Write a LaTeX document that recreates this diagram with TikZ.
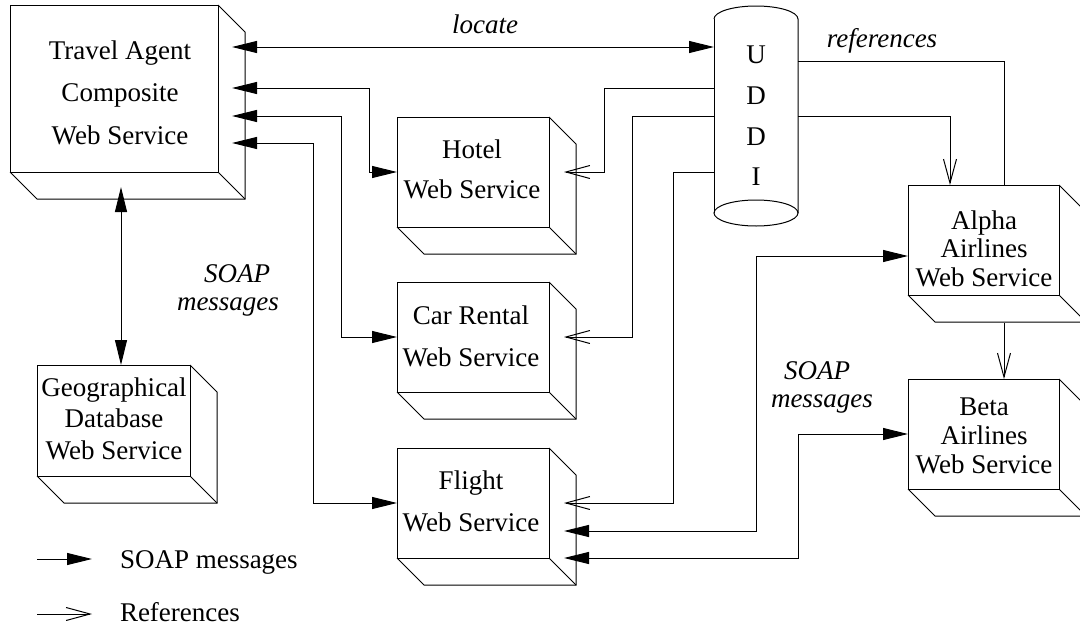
\documentclass[tikz,border=0pt]{standalone}
\usepackage{fontspec}
\setmainfont{Liberation Serif}
\usetikzlibrary{arrows.meta,calc}
\newcommand{\depthbox}[1]{%
  \draw (#1.north east) -- ++(27,-27) |- ($(#1.south west)+(27,-27)$) -- (#1.south west);
  \draw (#1.south east) -- ++(27,-27);}
\begin{document}
\begin{tikzpicture}[x=1pt,y=1pt,line width=1pt,line join=miter,
  every node/.style={outer sep=0pt,inner sep=0pt},
  face/.style={draw,rectangle},
  txt/.style={align=center},
  lbl/.style={font=\fontsize{27}{27}\selectfont\itshape},
  soap/.style={-{Triangle[length=25pt,width=12pt]}},
  soaptwo/.style={{Triangle[length=25pt,width=12pt]}-{Triangle[length=25pt,width=12pt]}},
  refarrow/.style={-{Straight Barb[length=24pt,width=13pt]}}]
\useasboundingbox (0,0) rectangle (1080,-627);

% boxes (front faces)
\node[face,minimum width=208,minimum height=167] (ta) at (114,-88.5) {};
\node[face,minimum width=152,minimum height=110] (hotel) at (473,-172) {};
\node[face,minimum width=152,minimum height=110] (car) at (473,-337) {};
\node[face,minimum width=152,minimum height=110] (flight) at (473,-503) {};
\node[face,minimum width=153,minimum height=111] (geo) at (113.5,-420.5) {};
\node[face,minimum width=151,minimum height=110] (alpha) at (983.5,-240) {};
\node[face,minimum width=151,minimum height=110] (beta) at (983.5,-434) {};
\depthbox{ta}
\depthbox{hotel}
\depthbox{car}
\depthbox{flight}
\depthbox{geo}
\depthbox{alpha}
\depthbox{beta}

% box texts
\node[txt,font=\fontsize{27}{42.5}\selectfont] (ta-t) at (120,-92.5) {Travel Agent\\Composite\\Web Service};
\node[txt,font=\fontsize{27}{40}\selectfont] (hotel-t) at (472,-169) {Hotel\\Web Service};
\node[txt,font=\fontsize{27}{42}\selectfont] (car-t) at (471,-336) {Car Rental\\Web Service};
\node[txt,font=\fontsize{27}{42}\selectfont] (flight-t) at (471,-501) {Flight\\Web Service};
\node[txt,font=\fontsize{27}{31.5}\selectfont] (geo-t) at (114,-418.5) {Geographical\\Database\\Web Service};
\node[txt,font=\fontsize{27}{28.5}\selectfont] (alpha-t) at (984,-248.5) {Alpha\\Airlines\\Web Service};
\node[txt,font=\fontsize{27}{29}\selectfont] (beta-t) at (984,-436) {Beta\\Airlines\\Web Service};

% UDDI cylinder
\node[txt,minimum width=84,minimum height=194,font=\fontsize{27}{40.7}\selectfont] (uddi) at (756,-116) {U\\D\\D\\I};
\draw (uddi.north west) arc[start angle=180,end angle=0,x radius=42,y radius=13] -- (uddi.south east);
\draw (uddi.north west) -- (uddi.south west);
\draw (uddi.south) ellipse[x radius=42,y radius=13];

% arrow end points inside depth faces
\coordinate (taR) at ([xshift=14]ta.east);
\coordinate (hotelR) at ([xshift=15]hotel.east);
\coordinate (carR) at ([xshift=15]car.east);
\coordinate (flightR) at ([xshift=15]flight.east);
\coordinate (tageo) at ([xshift=7,yshift=-15]ta.south);

% SOAP message connectors
\draw[soaptwo] (taR |- 0,-47) -- (uddi.west |- 0,-47);
\draw[soaptwo] (taR |- 0,-88) -| ([xshift=-28]hotel.west) -- (hotel.west);
\draw[soaptwo] (taR |- 0,-116) -| ([xshift=-56]car.west) -- (car.west);
\draw[soaptwo] (taR |- 0,-143) -| ([xshift=-84]flight.west) -- (flight.west);
\draw[soaptwo] (tageo) -- (tageo |- geo.north);
\draw[soaptwo] ([yshift=-28]flightR) -| ([xshift=-152,yshift=-16]alpha.west) -- ([yshift=-16]alpha.west);
\draw[soaptwo] ([yshift=-55]flightR) -| ([xshift=-110]beta.west) -- (beta.west);

% reference connectors
\draw[refarrow] (uddi.west |- 0,-88) -| ([xshift=40]hotelR) -- (hotelR);
\draw[refarrow] (uddi.west |- 0,-116) -| ([xshift=68]carR) -- (carR);
\draw[refarrow] (uddi.west |- 0,-172) -| ([xshift=109]flightR) -- (flightR);
\draw (uddi.east |- 0,-61) -| ([xshift=20.5]alpha.north);
\draw[refarrow] (uddi.east |- 0,-116) -| ([xshift=-33.5]alpha.north);
\draw[refarrow] ([xshift=20.5,yshift=-28]alpha.south) -- ([xshift=20.5]beta.north);

% labels
\node[lbl,anchor=base] (locate) at (485,-33) {locate};
\node[lbl,anchor=base] (references) at (882,-47) {references};
\node[lbl,anchor=base] (soap1) at (237,-282) {SOAP};
\node[lbl,anchor=base] (msg1) at (228,-310) {messages};
\node[lbl,anchor=base] (soap2) at (817,-379) {SOAP};
\node[lbl,anchor=base] (msg2) at (822,-407) {messages};

% legend
\coordinate (l1a) at (37,-559);
\coordinate (l1b) at (92,-559);
\coordinate (l2a) at (37,-614);
\coordinate (l2b) at (92,-614);
\draw[soap] (l1a) -- (l1b);
\draw[refarrow] (l2a) -- (l2b);
\node[anchor=base west,font=\fontsize{27}{27}\selectfont] (leg1) at (120,-568) {SOAP messages};
\node[anchor=base west,font=\fontsize{27}{27}\selectfont] (leg2) at (120,-621) {References};
\end{tikzpicture}
\end{document}
